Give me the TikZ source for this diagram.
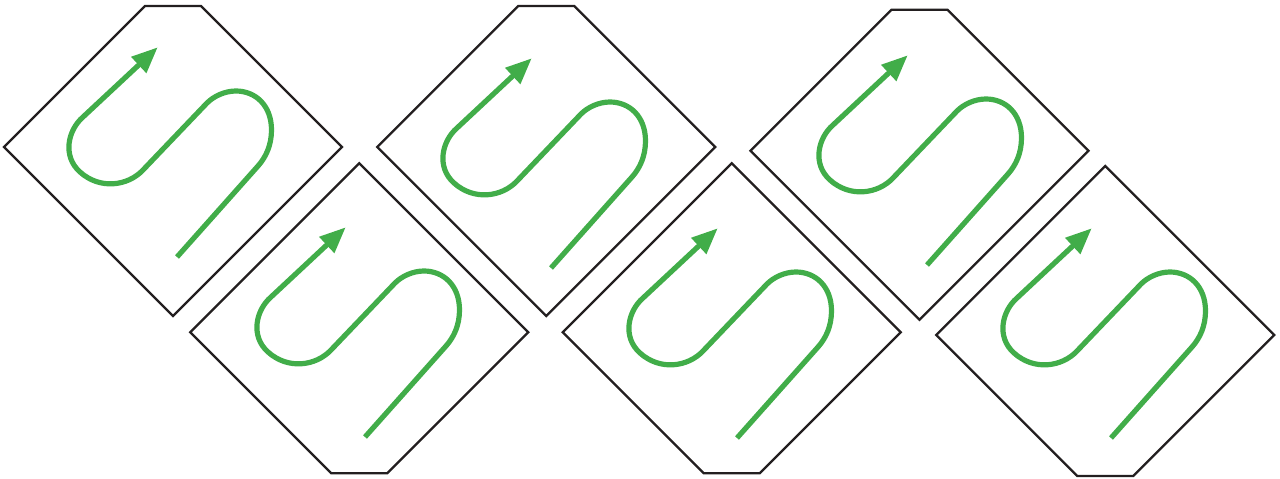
\documentclass[tikz,border=0pt]{standalone}
\usetikzlibrary{arrows.meta}
\definecolor{sgreen}{RGB}{65,173,73}
\definecolor{frameblack}{RGB}{35,31,32}
\begin{document}
\begin{tikzpicture}[x=1pt,y=-1pt,
  framestyle/.style={draw=frameblack,line width=2.3pt,line join=miter},
  snakestyle/.style={draw=sgreen,line width=5.2pt,line join=round,line cap=butt,
    -{Triangle[length=26pt,width=21pt]}},
  ptop/.pic={\draw[framestyle] (-169,0) -- (-28,-141) -- (28,-141) -- (169,0) -- (0,169) -- cycle;},
  pbot/.pic={\draw[framestyle] (0,-169) -- (169,0) -- (28,141) -- (-28,141) -- (-169,0) -- cycle;},
  sarrow/.pic={\draw[snakestyle] (0,0) -- (81,-91)
     .. controls (89,-100) and (94.5,-112) .. (94.5,-127)
     .. controls (94.5,-152) and (78,-166) .. (59,-166)
     .. controls (48,-166) and (37,-161) .. (30,-154)
     -- (-34,-87)
     .. controls (-49,-71) and (-77,-67) .. (-97,-85)
     .. controls (-115,-101) and (-109,-127) .. (-94,-140)
     -- (-19.3,-209.7);}
]
\useasboundingbox (0,0) rectangle (1280,479);
% frames
\pic at (173,147) {ptop};
\pic at (546.3,147) {ptop};
\pic at (919.5,150.7) {ptop};
\pic at (359.2,332.3) {pbot};
\pic at (731.7,332.3) {pbot};
\pic at (1105.3,335) {pbot};
% S arrows
\pic at (177,257) {sarrow};
\pic at (365,437) {sarrow};
\pic at (551,268) {sarrow};
\pic at (737,438) {sarrow};
\pic at (927,265) {sarrow};
\pic at (1111,438) {sarrow};
\end{tikzpicture}
\end{document}
